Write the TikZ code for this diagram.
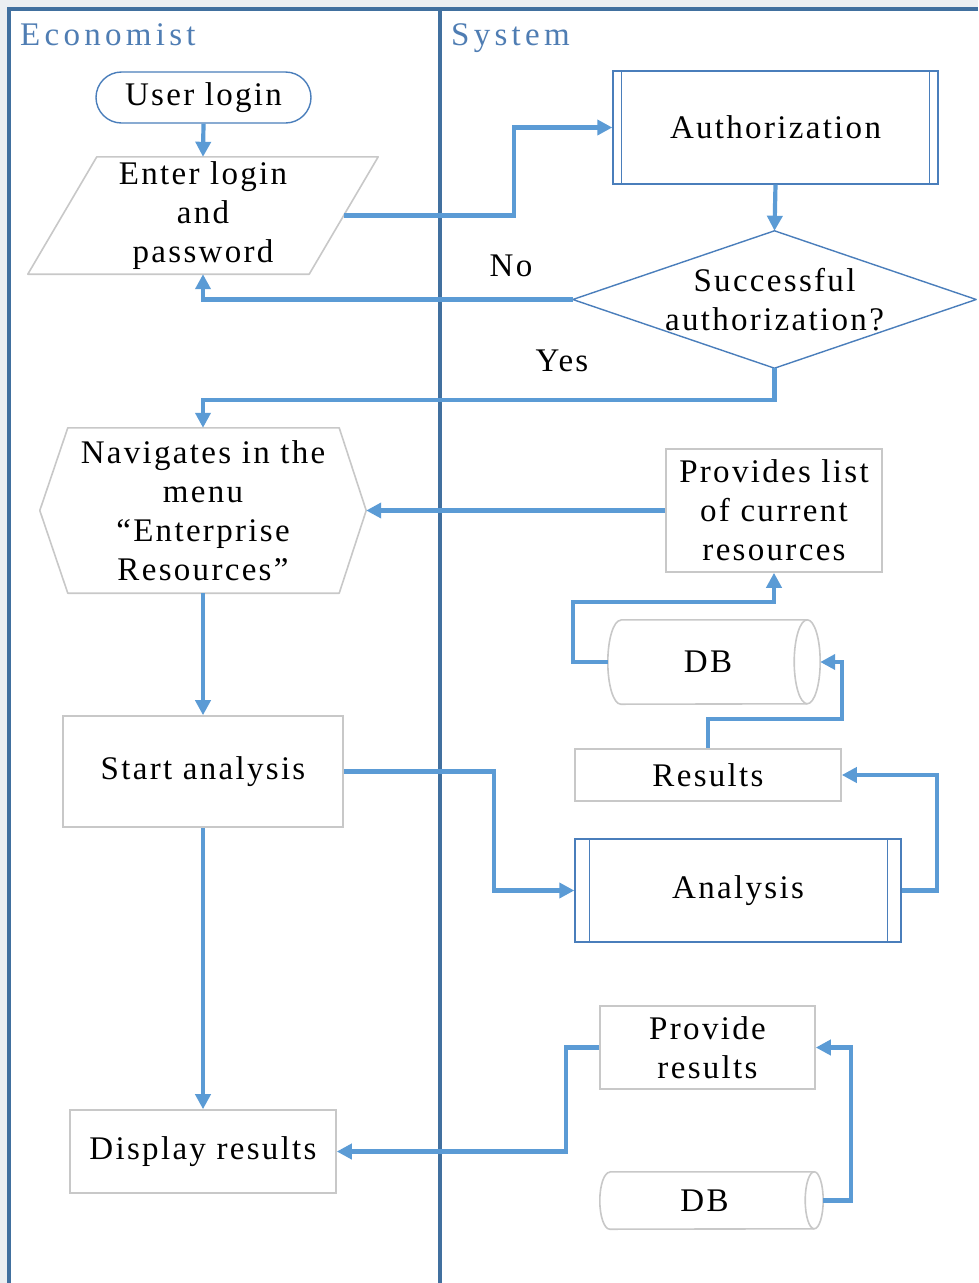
\documentclass[tikz,border=0pt]{standalone}
\usepackage{fontspec}
\setmainfont{Liberation Serif}[LetterSpace=7]
\newfontfamily\headfont{Liberation Serif}[LetterSpace=13]
\usetikzlibrary{arrows.meta,calc}

\definecolor{flow}{HTML}{5B9BD5}
\definecolor{lane}{HTML}{41709F}
\definecolor{lanetext}{HTML}{4F7DB3}
\definecolor{procline}{HTML}{4A7EBB}
\definecolor{boxline}{HTML}{C8C8C8}
\definecolor{outer}{HTML}{ECEFF2}

\tikzset{
  txt/.style={font=\fontsize{33}{39}\selectfont, align=center, inner sep=0pt},
  header/.style={font=\headfont\fontsize{33}{39}\selectfont, text=lanetext, inner sep=0pt},
  shapebox/.style={txt, draw=none, rectangle},
  grayrect/.style={txt, rectangle, draw=boxline, line width=1.6pt},
  proc/.style={txt, rectangle, draw=procline, line width=1.4pt},
  terminal/.style={txt, rectangle, draw=procline, line width=1.4pt, rounded corners=25.5pt},
  grayline/.style={draw=boxline, line width=1.6pt, line join=round},
  procthin/.style={draw=procline, line width=1.4pt},
  laneline/.style={draw=lane, line width=3.6pt},
  flowarrow/.style={draw=flow, line width=4.2pt, -{Triangle[length=15pt,width=15pt]}},
}

\begin{document}
\begin{tikzpicture}[x=1pt,y=-1pt]
  % page and swimlane frame
  \fill[outer] (0,0) rectangle (978,1283);
  \fill[white] (9,9) rectangle (978,1283);
  \useasboundingbox (0,0) rectangle (978,1283);
  \draw[laneline] (9,1283) -- (9,9) -- (978,9);
  \draw[laneline] (440,9) -- (440,1283);
  \node[header, anchor=base west] (econ) at (20,45) {Economist};
  \node[header, anchor=base west] (sys) at (451,45) {System};

  % Economist lane
  \node[terminal, minimum width=215pt, minimum height=51pt] (login) at (203.5,97.5) {User login};
  \node[shapebox, minimum width=350pt, minimum height=117pt] (enter) at (203,215.5) {Enter login\\and\\password};
  \draw[grayline] ($(enter.north west)+(69,0)$) -- (enter.north east)
     -- ($(enter.south east)+(-69,0)$) -- (enter.south west) -- cycle;
  \node[shapebox, minimum width=326pt, minimum height=165pt] (nav) at (203,510.5)
     {Navigates in the\\menu\\“Enterprise\\Resources”};
  \draw[grayline] (nav.west) -- ($(nav.north west)+(28,0)$) -- ($(nav.north east)+(-27,0)$)
     -- (nav.east) -- ($(nav.south east)+(-27,0)$) -- ($(nav.south west)+(28,0)$) -- cycle;
  \node[grayrect, minimum width=280pt, minimum height=111pt] (start) at (203,771.5) {Start analysis};
  \node[grayrect, minimum width=266pt, minimum height=83pt] (disp) at (203,1151.5) {Display results};

  % System lane
  \node[proc, minimum width=325pt, minimum height=113pt] (auth) at (775.5,127.5) {Authorization};
  \draw[procthin] ($(auth.north west)+(9,0)$) -- ($(auth.south west)+(9,0)$);
  \draw[procthin] ($(auth.north east)+(-9,0)$) -- ($(auth.south east)+(-9,0)$);

  \node[shapebox, minimum width=403pt, minimum height=137pt] (dec) at (774.5,299.5) {Successful\\authorization?};
  \draw[procthin, line join=round] (dec.west) -- (dec.north) -- (dec.east) -- (dec.south) -- cycle;

  \node[grayrect, minimum width=216pt, minimum height=123pt] (prov) at (774,510.5) {Provides list\\of current\\resources};

  \node[shapebox, minimum width=212pt, minimum height=84pt] (db1) at (714,662) {\hspace*{-12pt}DB};
  \draw[grayline] ($(db1.north west)+(13,0)$) -- ($(db1.north east)+(-13,0)$)
     arc[start angle=-90, end angle=90, x radius=13, y radius=42]
     -- ($(db1.south west)+(13,0)$)
     arc[start angle=90, end angle=270, x radius=13, y radius=42] -- cycle;
  \draw[grayline] ($(db1.north east)+(-13,0)$) arc[start angle=270, end angle=90, x radius=13, y radius=42];

  \node[grayrect, minimum width=266pt, minimum height=52pt] (res) at (708,775) {Results};

  \node[proc, minimum width=326pt, minimum height=103pt] (ana) at (738,890.5) {Analysis};
  \draw[procthin] ($(ana.north west)+(15,0)$) -- ($(ana.south west)+(15,0)$);
  \draw[procthin] ($(ana.north east)+(-14,0)$) -- ($(ana.south east)+(-14,0)$);

  \node[grayrect, minimum width=215pt, minimum height=83pt] (provres) at (707.5,1047.5) {Provide\\results};

  \node[shapebox, minimum width=223pt, minimum height=57pt] (db2) at (711.5,1200.5) {\hspace*{-14pt}DB};
  \draw[grayline] ($(db2.north west)+(10,0)$) -- ($(db2.north east)+(-9,0)$)
     arc[start angle=-90, end angle=90, x radius=9, y radius=28.5]
     -- ($(db2.south west)+(10,0)$)
     arc[start angle=90, end angle=270, x radius=10, y radius=28.5] -- cycle;
  \draw[grayline] ($(db2.north east)+(-9,0)$) arc[start angle=270, end angle=90, x radius=9, y radius=28.5];

  % branch labels
  \node[txt] (no) at (511,266) {No};
  \node[txt] (yes) at (562,361) {Yes};

  % connectors
  \draw[flowarrow] (login.south) -- (enter.north);
  \draw[flowarrow] ($(enter.east)+(-34.5,0)$) -- ++(170,0) |- (auth.west);
  \draw[flowarrow] (auth.south) -- (dec.north);
  \draw[flowarrow] (dec.west) -| (enter.south);
  \draw[flowarrow] (dec.south) -- ++(0,32) -| (nav.north);
  \draw[flowarrow] (prov.west) -- (nav.east);
  \draw[flowarrow] (nav.south) -- (start.north);
  \draw[flowarrow] (start.east) -- ++(150,0) |- (ana.west);
  \draw[flowarrow] (ana.east) -- ++(35,0) |- (res.east);
  \draw[flowarrow] (res.north) -- ++(0,-29) -| ($(db1.east)+(22,0)$) -- (db1.east);
  \draw[flowarrow] (db1.west) -- ++(-35,0) |- ($(prov.south)+(0,29)$) -- (prov.south);
  \draw[flowarrow] (start.south) -- (disp.north);
  \draw[flowarrow] (provres.west) -- ++(-33,0) |- (disp.east);
  \draw[flowarrow] (db2.east) -- ++(28,0) |- (provres.east);
\end{tikzpicture}
\end{document}
